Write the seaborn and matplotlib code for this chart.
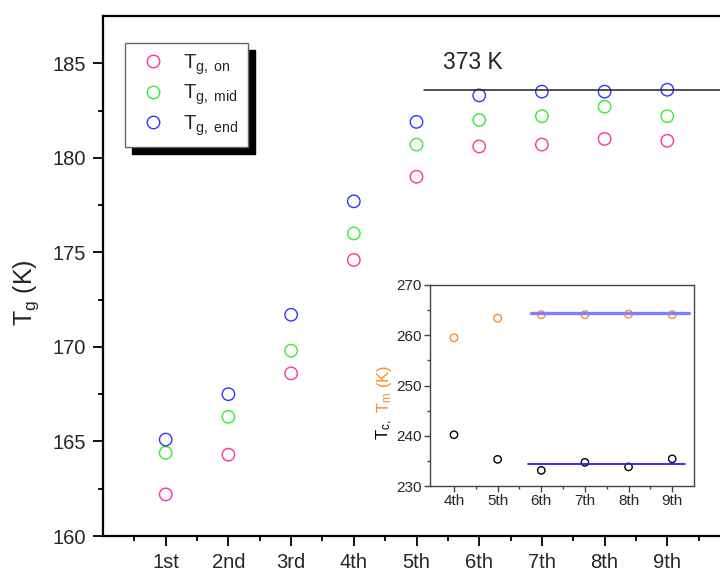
import numpy as np
import pandas as pd
import matplotlib
matplotlib.use("Agg")
import matplotlib.pyplot as plt
import seaborn as sns

sns.set_theme(style="ticks")
plt.rcParams["font.family"] = ["Liberation Sans", "DejaVu Sans"]
plt.rcParams["mathtext.fontset"] = "custom"
plt.rcParams["mathtext.rm"] = "Liberation Sans"
plt.rcParams["mathtext.it"] = "Liberation Sans"

# ---- main panel data: glass transition temperatures per cycle ----
cycles = ["1st", "2nd", "3rd", "4th", "5th", "6th", "7th", "8th", "9th"]
tg_on = [162.2, 164.3, 168.6, 174.6, 179.0, 180.6, 180.7, 181.0, 180.9]
tg_mid = [164.4, 166.3, 169.8, 176.0, 180.7, 182.0, 182.2, 182.7, 182.2]
tg_end = [165.1, 167.5, 171.7, 177.7, 181.9, 183.3, 183.5, 183.5, 183.6]
series_labels = [r"T$_\mathregular{g,\ on}$", r"T$_\mathregular{g,\ mid}$",
                 r"T$_\mathregular{g,\ end}$"]
series_colors = ["#ff3399", "#33ee33", "#3333ff"]

# reference level for the annealing temperature
ref_label = "373 K"
ref_level = 183.6
ref_span = (5.12, 10.0)

# ---- inset data: crystallisation / melting temperatures ----
inset_cycles = ["4th", "5th", "6th", "7th", "8th", "9th"]
t_m = [259.5, 263.4, 264.1, 264.1, 264.2, 264.1]
t_c = [240.2, 235.3, 233.1, 234.7, 233.8, 235.4]
t_m_level, t_m_span = 264.4, (5.77, 9.39)
t_c_level, t_c_span = 234.3, (5.69, 9.30)

pos = np.arange(1, len(cycles) + 1)
df = pd.DataFrame({
    "cycle": np.tile(pos, 3),
    "Tg": tg_on + tg_mid + tg_end,
    "kind": np.repeat(series_labels, len(cycles)),
})

fig = plt.figure(figsize=(7.2, 5.69), dpi=100)
ax = fig.add_axes([103 / 720, 33 / 569, 627 / 720, 520 / 569])

sns.scatterplot(data=df, x="cycle", y="Tg", hue="kind",
                palette=dict(zip(series_labels, series_colors)),
                s=80, marker="o", linewidth=1.0, legend=False, ax=ax)
for coll in ax.collections:
    fc = coll.get_facecolors()
    coll.set_edgecolors(fc)
    coll.set_facecolors("none")

ax.plot(ref_span, [ref_level, ref_level], color="#222222", lw=1.1)
ax.text(5.42, ref_level + 1.45, ref_label, fontsize=16.5, ha="left", va="center")

ax.set_xlim(0, 10)
ax.set_ylim(160, 187.5)
ax.set_xticks(pos)
ax.set_xticklabels(cycles)
ax.set_xticks(np.arange(0.5, 10, 1.0), minor=True)
ax.set_yticks([160, 165, 170, 175, 180, 185])
ax.set_yticks(np.arange(162.5, 187.5, 5), minor=True)
ax.set_xlabel("")
ax.set_ylabel("")
for side in ["left", "bottom", "top", "right"]:
    ax.spines[side].set_linewidth(1.6)
    ax.spines[side].set_color("black")
ax.tick_params(which="major", direction="out", length=7, width=1.3,
               labelsize=14.5, pad=5, color="black")
ax.tick_params(which="minor", direction="out", length=3.5, width=1.3, color="black")
ax.tick_params(axis="x", which="major", pad=5)

fig.text(26 / 720, 1 - 293 / 569, r"T$_\mathregular{g}$ (K)", rotation=90,
         fontsize=18, ha="center", va="center")

# legend with a solid offset shadow
handles = [plt.Line2D([], [], ls="none", marker="o", ms=9, mfc="none",
                      mec=c, mew=1.0) for c in series_colors]
leg = ax.legend(handles, series_labels, loc="upper left",
                bbox_to_anchor=(125 / 720, 1 - 43 / 569),
                bbox_transform=fig.transFigure, borderaxespad=0,
                fontsize=14.5, frameon=True, fancybox=False,
                shadow={"ox": 5, "oy": -5, "color": "black", "alpha": 1},
                handletextpad=0.55, labelspacing=0.3, borderpad=0.45,
                handlelength=1.9)
leg.get_frame().set_edgecolor("#666666")
leg.get_frame().set_linewidth(1.0)
leg.get_frame().set_alpha(1)

# ---- inset ----
ins = fig.add_axes([430 / 720, 83 / 569, 264 / 720, 201 / 569])
ipos = np.arange(4, 4 + len(inset_cycles))
sns.scatterplot(x=ipos, y=t_m, s=30, marker="o", color="#ff8c2a",
                linewidth=1.0, ax=ins)
sns.scatterplot(x=ipos, y=t_c, s=28, marker="o", color="black",
                linewidth=1.0, ax=ins)
for coll in ins.collections:
    fc = coll.get_facecolors()
    coll.set_edgecolors(fc)
    coll.set_facecolors("none")
ins.plot(t_m_span, [t_m_level, t_m_level], color="#7f7fff", lw=2.4, zorder=1)
ins.plot(t_c_span, [t_c_level, t_c_level], color="#2020ff", lw=1.3, zorder=1)

ins.set_xlim(3.45, 9.5)
ins.set_ylim(230, 270)
ins.set_xticks(ipos)
ins.set_xticklabels(inset_cycles)
ins.set_xticks(np.arange(4.5, 9.5, 1.0), minor=True)
ins.set_yticks([230, 240, 250, 260, 270])
ins.set_yticks(np.arange(235, 270, 10), minor=True)
for side in ["left", "bottom", "top", "right"]:
    ins.spines[side].set_linewidth(1.0)
    ins.spines[side].set_color("#444444")
ins.tick_params(which="major", direction="out", length=4, width=1.0,
                labelsize=11, pad=2, color="#444444")
ins.tick_params(which="minor", direction="out", length=2, width=1.0, color="#444444")
ins.set_xlabel("")
ins.set_ylabel("")

fig.text(385 / 720, 1 - 440 / 569, r"T$_\mathregular{c,}$ ", rotation=90,
         rotation_mode="anchor", fontsize=12, ha="left", va="center", color="black")
fig.text(385 / 720, 1 - 413 / 569, r"T$_\mathregular{m}$ (K)", rotation=90,
         rotation_mode="anchor", fontsize=12, ha="left", va="center", color="#ff8c2a")

fig.savefig("out.png", dpi=100)
